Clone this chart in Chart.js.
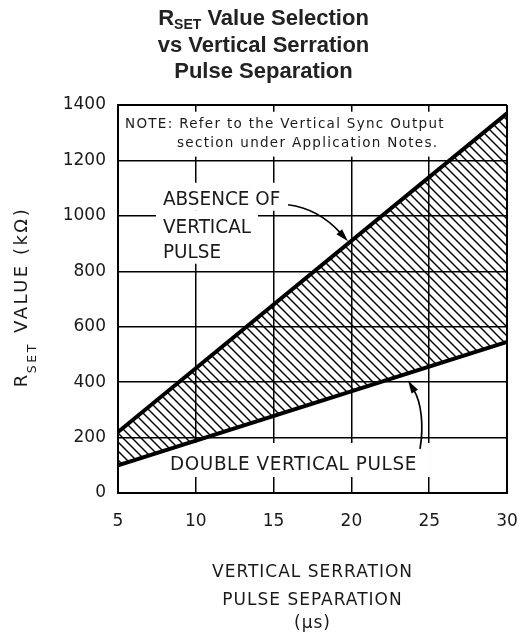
<!DOCTYPE html>
<html>
<head>
<meta charset="utf-8">
<script src="https://cdn.jsdelivr.net/npm/chart.js@4.4.1/dist/chart.umd.min.js"></script>
<style>
  html, body { margin: 0; padding: 0; background: #fff; }
  #wrap { width: 519px; height: 642px; }
</style>
</head>
<body>
<div id="wrap"><canvas id="rsetChart" width="519" height="642"></canvas></div>
<script>
// pulse separation (us) at both ends of the plot
const separation = [5, 30];
// boundary lines, R_SET in kOhm
const absenceLimit = [220, 1370];
const doubleLimit = [100, 545];
const xTicks = [5, 10, 15, 20, 25, 30];
const yTicks = [0, 200, 400, 600, 800, 1000, 1200, 1400];

// texts
const titleLines = [" Value Selection", "vs Vertical Serration", "Pulse Separation"];
const noteLines = ["NOTE: Refer to the Vertical Sync Output", "section under Application Notes."];
const absenceLines = ["ABSENCE OF", "VERTICAL", "PULSE"];
const doubleText = "DOUBLE VERTICAL PULSE";
const xTitleLines = ["VERTICAL SERRATION", "PULSE SEPARATION", "(\u03bcs)"];
const yTitleText = " VALUE (k\u03a9)";

// where the annotations sit, in data units (us, kOhm)
const noteAt = { x: [5.45, 8.79], y: [1318, 1250] };
const absenceAt = { x: 7.89, y: [1040, 939, 849] };
const doubleAt = { x: 8.34, y: 83 };
const arrowAbsence = { x: [15.93, 17.35, 18.64, 19.78], y: [1040, 1030, 979, 908] };
const arrowDouble = { x: [24.41, 24.67, 24.35, 23.64], y: [159, 246, 340, 406] };

const CAD = '"DejaVu Sans", sans-serif';
const INK = "#1a1a1a";

const canvas = document.getElementById("rsetChart");
const ctx = canvas.getContext("2d");

// hatch for the band between the two limits
const tile = document.createElement("canvas");
tile.width = 9;
tile.height = 9;
const tg = tile.getContext("2d");
tg.strokeStyle = "#000";
tg.lineWidth = 1.4;
[-9, 0, 9].forEach(o => {
  tg.beginPath();
  tg.moveTo(o - 1, -1);
  tg.lineTo(o + 10, 10);
  tg.stroke();
});
const hatch = ctx.createPattern(tile, "repeat");

function toPx(chart, x, y) {
  return [chart.scales.x.getPixelForValue(x), chart.scales.y.getPixelForValue(y)];
}

// text line boxes, used both for the white masks and the text itself
function lineBoxes(chart) {
  const c = chart.ctx;
  const boxes = [];
  c.save();
  c.letterSpacing = "1.3px";
  const noteFont = "13.5px " + CAD;
  c.font = noteFont;
  noteLines.forEach((t, i) => {
    const [x, y] = toPx(chart, noteAt.x[i], noteAt.y[i]);
    boxes.push({ t, x, y, font: noteFont, sx: 1, ls: "1.3px", w: c.measureText(t).width, cap: 10, pl: 5, pr: 3, pt: 6, pb: 10 });
  });
  const bigFont = "20px " + CAD;
  const sx = 0.92;
  c.font = bigFont;
  c.letterSpacing = "0px";
  absenceLines.forEach((t, i) => {
    const [x, y] = toPx(chart, absenceAt.x, absenceAt.y[i]);
    boxes.push({ t, x, y, font: bigFont, sx, ls: "0px", w: c.measureText(t).width * sx, cap: 15, pl: 7, pr: 7, pt: 7, pb: 6 });
  });
  c.letterSpacing = "0.65px";
  const [dx, dy] = toPx(chart, doubleAt.x, doubleAt.y);
  boxes.push({ t: doubleText, x: dx, y: dy, font: bigFont, sx, ls: "0.65px", w: c.measureText(doubleText).width * sx, cap: 15, pl: 10, pr: 13, pt: 12, pb: 7 });
  c.restore();
  return boxes;
}

function drawArrow(chart, a) {
  const c = chart.ctx;
  const p = a.x.map((x, i) => toPx(chart, x, a.y[i]));
  const [tx, ty] = p[3];
  const dx = tx - p[2][0], dy = ty - p[2][1];
  const len = Math.hypot(dx, dy);
  const ux = dx / len, uy = dy / len;
  const hl = 13, hw = 3.8;
  const bx = tx - ux * hl, by = ty - uy * hl;
  c.save();
  c.strokeStyle = "#000";
  c.lineWidth = 1.7;
  c.beginPath();
  c.moveTo(p[0][0], p[0][1]);
  c.bezierCurveTo(p[1][0], p[1][1], p[2][0] - ux * 4, p[2][1] - uy * 4, bx + ux * 2, by + uy * 2);
  c.stroke();
  c.beginPath();
  c.moveTo(tx, ty);
  c.lineTo(bx - uy * hw, by + ux * hw);
  c.lineTo(bx + uy * hw, by - ux * hw);
  c.closePath();
  c.fillStyle = "#000";
  c.fill();
  c.restore();
}

const annotations = {
  id: "annotations",
  beforeDatasetsDraw(chart) {
    const c = chart.ctx;
    c.save();
    c.fillStyle = "#fff";
    lineBoxes(chart).forEach(b => {
      c.fillRect(b.x - b.pl, b.y - b.cap - b.pt, b.w + b.pl + b.pr, b.cap + b.pt + b.pb);
    });
    c.restore();
  },
  afterDraw(chart) {
    const c = chart.ctx;
    const area = chart.chartArea;
    c.save();
    c.fillStyle = INK;
    c.textBaseline = "alphabetic";
    c.textAlign = "left";
    lineBoxes(chart).forEach(b => {
      c.save();
      c.font = b.font;
      c.letterSpacing = b.ls;
      c.translate(b.x, b.y);
      c.scale(b.sx, 1);
      c.fillText(b.t, 0, 0);
      c.restore();
    });

    drawArrow(chart, arrowAbsence);
    drawArrow(chart, arrowDouble);

    // x axis title
    c.letterSpacing = "1px";
    c.font = "17px " + CAD;
    c.textAlign = "center";
    const cx = (area.left + area.right) / 2;
    const xBase = [577, 605, 628];
    xTitleLines.forEach((t, i) => c.fillText(t, cx, xBase[i]));

    // y axis title, rotated, with subscript
    c.save();
    c.letterSpacing = "2.5px";
    c.translate(27, (area.top + area.bottom) / 2 - 2);
    c.rotate(-Math.PI / 2);
    c.textAlign = "left";
    const mainF = "18px " + CAD, subF = "12.5px " + CAD;
    c.font = mainF;
    const wR = c.measureText("R").width;
    const wRest = c.measureText(yTitleText).width;
    c.font = subF;
    const wS = c.measureText("SET").width;
    const x0 = -(wR + wS + wRest) / 2;
    c.font = mainF;
    c.fillText("R", x0, 0);
    c.font = subF;
    c.fillText("SET", x0 + wR - 1, 9);
    c.font = mainF;
    c.fillText(yTitleText, x0 + wR + wS, 0);
    c.restore();

    // title
    c.letterSpacing = "0px";
    c.fillStyle = "#222";
    const tf = 'bold 22px "Liberation Sans", Arial, sans-serif';
    const tsf = 'bold 14px "Liberation Sans", Arial, sans-serif';
    const tcx = chart.width / 2 + 4;
    c.textAlign = "left";
    c.font = tf;
    const a1 = c.measureText("R").width;
    const a3 = c.measureText(titleLines[0]).width;
    c.font = tsf;
    const a2 = c.measureText("SET").width;
    const tx = tcx - (a1 + a2 + a3) / 2;
    c.font = tf;
    c.fillText("R", tx, 25);
    c.font = tsf;
    c.fillText("SET", tx + a1, 29);
    c.font = tf;
    c.fillText(titleLines[0], tx + a1 + a2, 25);
    c.textAlign = "center";
    c.fillText(titleLines[1], tcx, 51.5);
    c.fillText(titleLines[2], tcx, 77.5);
    c.restore();
  }
};

const frameWidth = (scale, v) => (v === scale.max || v === scale.min ? 2 : 1.5);

new Chart(ctx, {
  type: "line",
  data: {
    datasets: [
      {
        label: "Double vertical pulse limit",
        data: separation.map((x, i) => ({ x, y: doubleLimit[i] })),
        borderColor: "#000",
        borderWidth: 4,
        pointRadius: 0,
        tension: 0,
        fill: false,
        clip: 0
      },
      {
        label: "Absence of vertical pulse limit",
        data: separation.map((x, i) => ({ x, y: absenceLimit[i] })),
        borderColor: "#000",
        backgroundColor: hatch,
        borderWidth: 4,
        pointRadius: 0,
        tension: 0,
        fill: "-1",
        clip: 0
      }
    ]
  },
  options: {
    responsive: false,
    devicePixelRatio: 1,
    animation: false,
    layout: { padding: { top: 105, right: 12, left: 0, bottom: 0 } },
    plugins: {
      legend: { display: false },
      tooltip: { enabled: false },
      title: { display: false }
    },
    scales: {
      x: {
        type: "linear",
        min: 5,
        max: 30,
        afterBuildTicks: s => { s.ticks = xTicks.map(value => ({ value })); },
        afterFit: s => { s.height = 149; s.paddingLeft = 0; s.paddingRight = 0; },
        ticks: { color: INK, font: { family: CAD, size: 17 }, padding: 18, maxRotation: 0, callback: v => String(v) },
        grid: { color: "#000", lineWidth: c => frameWidth(c.scale, c.tick && c.tick.value), drawTicks: false },
        border: { color: "#000", width: 2 }
      },
      y: {
        min: 0,
        max: 1400,
        afterBuildTicks: s => { s.ticks = yTicks.map(value => ({ value })); },
        afterFit: s => { s.width = 118; s.paddingTop = 0; s.paddingBottom = 0; },
        ticks: { color: INK, font: { family: CAD, size: 17 }, padding: 12, callback: v => String(v) },
        grid: { color: "#000", lineWidth: c => frameWidth(c.scale, c.tick && c.tick.value), drawTicks: false },
        border: { color: "#000", width: 2 }
      }
    }
  },
  plugins: [annotations]
});
</script>
</body>
</html>
